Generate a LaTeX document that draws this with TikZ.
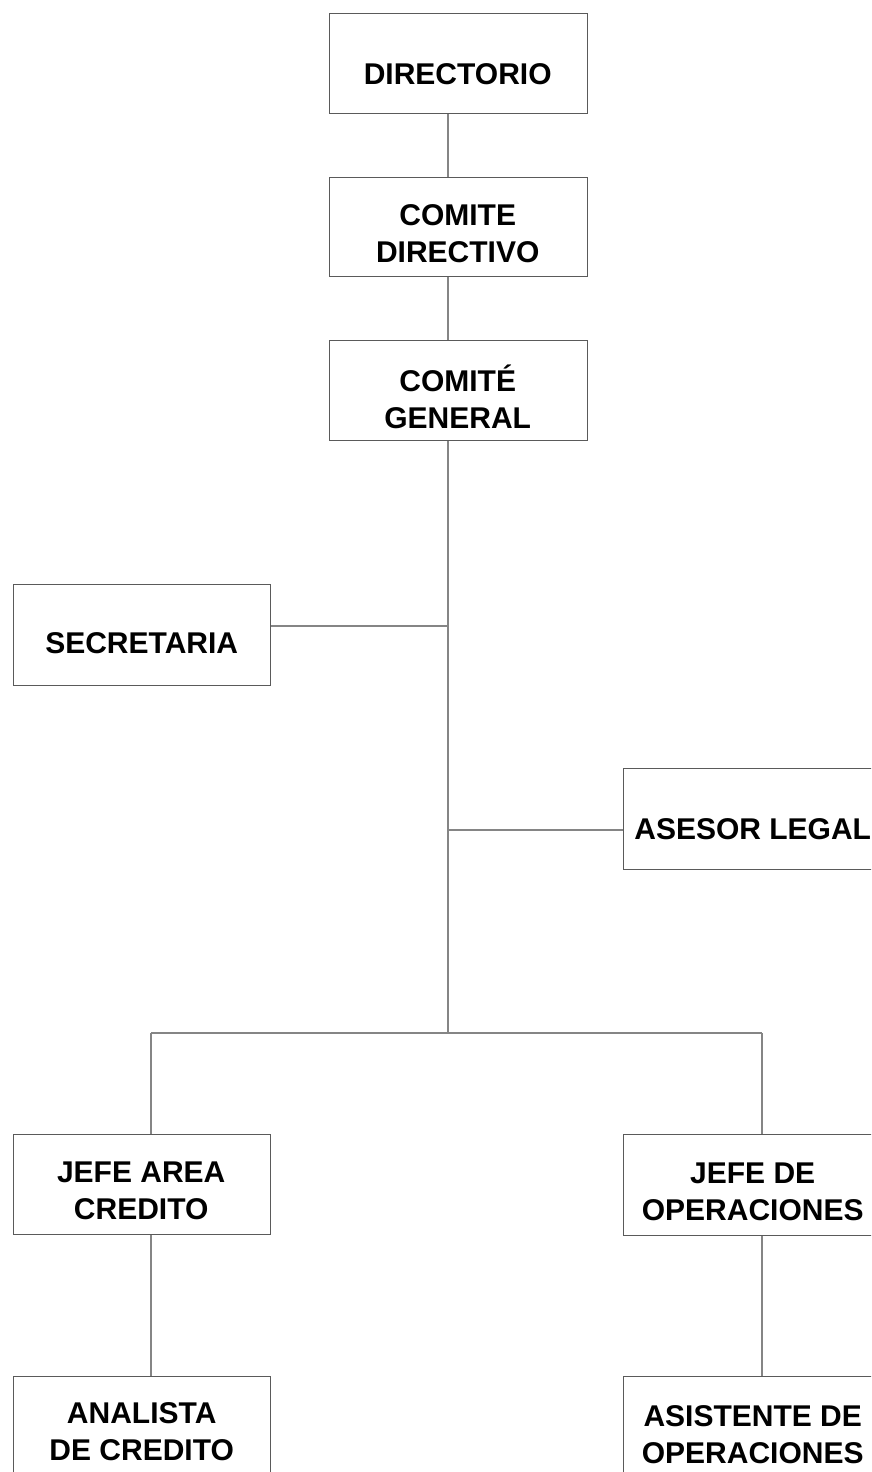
\documentclass[tikz,border=0pt]{standalone}
\usepackage{fontspec}
\setmainfont{Liberation Sans}
\definecolor{boxgray}{HTML}{5A5A5A}
\definecolor{linegray}{HTML}{858585}
\begin{document}
\begin{tikzpicture}[x=1pt,y=-1pt,
  box/.style={draw=boxgray,line width=1.4pt,inner sep=0pt,minimum height=100pt},
  topbox/.style={box,minimum width=258pt},
  leftbox/.style={box,minimum width=257pt},
  rightbox/.style={box,minimum width=258pt},
  txt/.style={font=\fontsize{30}{37}\selectfont\bfseries,align=center,inner sep=0pt,text=black},
  link/.style={draw=linegray,line width=1.1pt}]
\clip (0,0) rectangle (871,1472);
\fill[white] (0,0) rectangle (871,1472);

% boxes
\node[topbox,anchor=north west] (dir) at (329,13) {};
\node[topbox,anchor=north west,minimum height=99pt] (cd) at (329,177) {};
\node[topbox,anchor=north west] (cg) at (329,340) {};
\node[leftbox,anchor=north west,minimum height=101pt] (sec) at (13,584) {};
\node[rightbox,anchor=north west,minimum height=101pt] (ase) at (623,768) {};
\node[leftbox,anchor=north west] (jac) at (13,1134) {};
\node[rightbox,anchor=north west,minimum height=101pt] (jop) at (623,1134) {};
\node[leftbox,anchor=north west] (ana) at (13,1376) {};
\node[rightbox,anchor=north west] (aso) at (623,1376) {};

% texts
\node[txt] (tdir) at ([xshift=-1pt,yshift=-10pt]dir.center) {DIRECTORIO};
\node[txt] (tcd) at ([xshift=-1pt,yshift=-6pt]cd.center) {COMITE\\DIRECTIVO};
\node[txt] (tcg) at ([xshift=-1pt,yshift=-6.5pt]cg.center) {COMITÉ\\GENERAL};
\node[txt] (tsec) at ([xshift=-0.5pt,yshift=-8pt]sec.center) {SECRETARIA};
\node[txt] (tase) at ([yshift=-10pt]ase.center) {ASESOR LEGAL};
\node[txt] (tjac) at ([xshift=-1pt,yshift=-6.5pt]jac.center) {JEFE AREA\\CREDITO};
\node[txt] (tjop) at ([yshift=-7pt]jop.center) {JEFE DE\\OPERACIONES};
\node[txt] (tana) at ([xshift=-0.5pt,yshift=-5pt]ana.center) {ANALISTA\\DE CREDITO};
\node[txt] (taso) at ([yshift=-7.5pt]aso.center) {ASISTENTE DE\\OPERACIONES};

% connectors
\coordinate (mx) at (448,0);
\coordinate (js) at (448,626);
\coordinate (ja) at (448,830);
\coordinate (barL) at (151,1033);
\coordinate (barM) at (448,1033);
\coordinate (barR) at (762,1033);
\draw[link] (dir.south -| mx) -- (cd.north -| mx);
\draw[link] (cd.south -| mx) -- (cg.north -| mx);
\draw[link] (cg.south -| mx) -- (barM);
\draw[link] (sec.east |- js) -- (js);
\draw[link] (ja) -- (ase.west |- ja);
\draw[link] (barL) -- (barR);
\draw[link] (barL) -- (jac.north -| barL);
\draw[link] (barR) -- (jop.north -| barR);
\draw[link] (jac.south -| barL) -- (ana.north -| barL);
\draw[link] (jop.south -| barR) -- (aso.north -| barR);
\end{tikzpicture}
\end{document}
